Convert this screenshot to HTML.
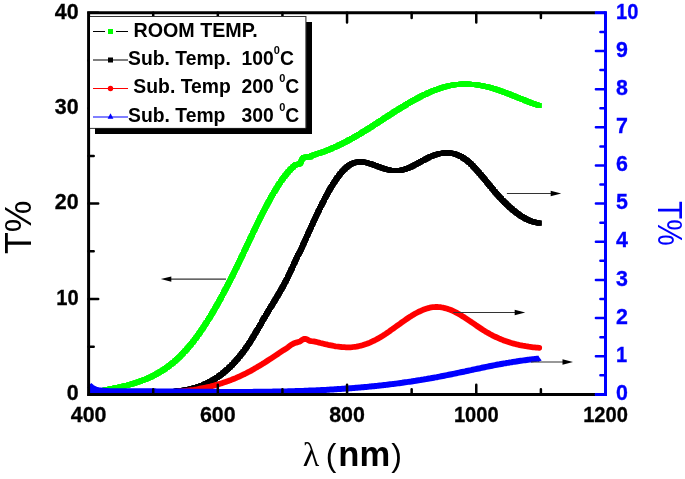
<!DOCTYPE html>
<html><head><meta charset="utf-8"><title>Transmittance</title>
<style>html,body{margin:0;padding:0;background:#fff}svg{display:block}</style></head>
<body>
<svg width="685" height="479" viewBox="0 0 685 479">
<rect width="685" height="479" fill="#fff"/>
<defs><marker id="mg" markerUnits="userSpaceOnUse" markerWidth="5.4" markerHeight="5.4" refX="2.7" refY="2.7"><rect width="5.4" height="5.4" fill="#00ff00"/></marker><marker id="mk" markerUnits="userSpaceOnUse" markerWidth="5.4" markerHeight="5.4" refX="2.7" refY="2.7"><rect width="5.4" height="5.4" fill="#000"/></marker></defs>
<g fill="none" stroke-linejoin="round">
<path d="M92.0,392.3L93.0,392.1L94.0,392.0L95.0,391.8L95.9,391.6L96.9,391.4L97.9,391.3L98.9,391.1L99.9,390.9L100.9,390.7L101.9,390.5L102.8,390.3L103.8,390.2L104.8,390.0L105.8,389.8L106.8,389.6L107.8,389.4L108.7,389.2L109.7,389.0L110.7,388.8L111.7,388.6L112.7,388.4L113.6,388.2L114.6,388.0L115.6,387.8L116.6,387.6L117.6,387.4L118.5,387.2L119.5,387.0L120.5,386.8L121.5,386.6L122.5,386.3L123.4,386.1L124.4,385.9L125.4,385.6L126.4,385.4L127.3,385.2L128.3,384.9L129.3,384.7L130.2,384.4L131.2,384.1L132.2,383.9L133.1,383.6L134.1,383.3L135.0,383.0L136.0,382.7L136.9,382.4L137.9,382.1L138.8,381.8L139.8,381.4L140.7,381.1L141.7,380.7L142.6,380.4L143.6,380.0L144.5,379.7L145.4,379.3L146.3,378.9L147.3,378.5L148.2,378.1L149.1,377.7L150.0,377.3L150.9,376.9L151.8,376.4L152.7,376.0L153.6,375.5L154.5,375.1L155.4,374.6L156.3,374.1L157.1,373.6L158.0,373.1L158.9,372.6L159.7,372.1L160.6,371.6L161.4,371.1L162.3,370.5L163.1,370.0L164.0,369.5L164.8,368.9L165.6,368.3L166.4,367.7L167.2,367.2L168.0,366.6L168.8,366.0L169.6,365.4L170.4,364.7L171.2,364.1L172.0,363.5L172.8,362.9L173.5,362.2L174.3,361.6L175.1,360.9L175.8,360.3L176.6,359.6L177.3,358.9L178.0,358.2L178.8,357.5L179.5,356.9L180.2,356.2L180.9,355.5L181.6,354.7L182.3,354.0L183.0,353.3L183.7,352.6L184.4,351.8L185.1,351.1L185.8,350.4L186.4,349.6L187.1,348.9L187.7,348.1L188.4,347.4L189.0,346.6L189.7,345.8L190.3,345.1L191.0,344.3L191.6,343.5L192.2,342.7L192.8,342.0L193.5,341.2L194.1,340.4L194.7,339.6L195.3,338.8L195.9,338.0L196.5,337.2L197.1,336.4L197.7,335.5L198.2,334.7L198.8,333.9L199.4,333.1L200.0,332.3L200.5,331.5L201.1,330.6L201.7,329.8L202.2,329.0L202.8,328.1L203.4,327.3L203.9,326.5L204.5,325.6L205.0,324.8L205.5,324.0L206.1,323.1L206.6,322.3L207.2,321.4L207.7,320.6L208.2,319.7L208.7,318.9L209.3,318.0L209.8,317.2L210.3,316.3L210.8,315.5L211.4,314.6L211.9,313.7L212.4,312.9L212.9,312.0L213.4,311.2L213.9,310.3L214.4,309.4L214.9,308.6L215.4,307.7L215.9,306.8L216.4,306.0L216.9,305.1L217.4,304.2L217.9,303.3L218.4,302.5L218.9,301.6L219.3,300.7L219.8,299.8L220.3,299.0L220.8,298.1L221.3,297.2L221.7,296.3L222.2,295.4L222.7,294.6L223.2,293.7L223.6,292.8L224.1,291.9L224.6,291.0L225.0,290.1L225.5,289.2L226.0,288.4L226.4,287.5L226.9,286.6L227.4,285.7L227.8,284.8L228.3,283.9L228.7,283.0L229.2,282.1L229.6,281.2L230.1,280.3L230.5,279.5L231.0,278.6L231.4,277.7L231.9,276.8L232.3,275.9L232.8,275.0L233.2,274.1L233.7,273.2L234.1,272.3L234.6,271.4L235.0,270.5L235.4,269.6L235.9,268.7L236.3,267.8L236.8,266.9L237.2,266.0L237.6,265.1L238.1,264.2L238.5,263.3L238.9,262.4L239.4,261.5L239.8,260.6L240.2,259.7L240.7,258.8L241.1,257.9L241.5,257.0L242.0,256.1L242.4,255.2L242.8,254.2L243.3,253.3L243.7,252.4L244.1,251.5L244.5,250.6L245.0,249.7L245.4,248.8L245.8,247.9L246.3,247.0L246.7,246.1L247.1,245.2L247.5,244.3L248.0,243.4L248.4,242.5L248.8,241.6L249.3,240.7L249.7,239.8L250.1,238.9L250.5,238.0L251.0,237.1L251.4,236.1L251.8,235.2L252.3,234.3L252.7,233.4L253.1,232.5L253.6,231.6L254.0,230.7L254.4,229.8L254.9,228.9L255.3,228.0L255.7,227.1L256.2,226.2L256.6,225.3L257.0,224.4L257.5,223.5L257.9,222.6L258.4,221.7L258.8,220.8L259.3,219.9L259.7,219.0L260.1,218.1L260.6,217.2L261.0,216.3L261.5,215.4L261.9,214.6L262.4,213.7L262.8,212.8L263.3,211.9L263.8,211.0L264.2,210.1L264.7,209.2L265.1,208.3L265.6,207.4L266.1,206.5L266.5,205.7L267.0,204.8L267.5,203.9L267.9,203.0L268.4,202.1L268.9,201.2L269.4,200.4L269.9,199.5L270.4,198.6L270.8,197.7L271.3,196.9L271.8,196.0L272.3,195.1L272.8,194.3L273.3,193.4L273.8,192.5L274.3,191.7L274.9,190.8L275.4,190.0L275.9,189.1L276.4,188.2L277.0,187.4L277.5,186.5L278.0,185.7L278.6,184.9L279.1,184.0L279.7,183.2L280.2,182.4L280.8,181.5L281.4,180.7L281.9,179.9L282.5,179.1L283.1,178.3L283.7,177.5L284.3,176.7L284.9,175.9L285.5,175.1L286.2,174.3L286.8,173.5L287.4,172.8L288.1,172.0L288.8,171.2L289.4,170.5L290.1,169.8L290.8,169.1L291.5,168.3L292.2,167.6L293.0,167.0L293.7,166.3L294.5,165.6L295.3,165.0L296.1,164.4L297.1,164.4L298.1,164.3L299.0,163.9L299.9,163.4L300.6,162.8L301.0,161.8L301.3,160.9L301.7,160.0L302.2,159.1L302.9,158.4L303.7,157.7L304.6,157.4L305.5,157.1L306.5,157.0L307.5,157.0L308.5,157.0L309.5,156.9L310.5,156.8L311.2,156.1L312.0,155.5L313.0,155.2L313.9,154.9L314.9,154.6L315.8,154.3L316.8,154.0L317.7,153.7L318.7,153.4L319.6,153.1L320.6,152.8L321.5,152.4L322.5,152.1L323.4,151.8L324.4,151.4L325.3,151.1L326.2,150.7L327.2,150.3L328.1,150.0L329.0,149.6L330.0,149.2L330.9,148.8L331.8,148.4L332.7,148.0L333.6,147.6L334.6,147.2L335.5,146.8L336.4,146.4L337.3,146.0L338.2,145.6L339.1,145.1L340.0,144.7L340.9,144.3L341.8,143.8L342.7,143.4L343.6,142.9L344.5,142.5L345.4,142.0L346.3,141.6L347.2,141.1L348.0,140.6L348.9,140.1L349.8,139.7L350.7,139.2L351.6,138.7L352.4,138.2L353.3,137.7L354.2,137.2L355.0,136.7L355.9,136.2L356.8,135.7L357.6,135.2L358.5,134.7L359.4,134.2L360.2,133.7L361.1,133.2L361.9,132.6L362.8,132.1L363.6,131.6L364.5,131.1L365.3,130.5L366.2,130.0L367.0,129.5L367.9,129.0L368.7,128.4L369.6,127.9L370.4,127.3L371.3,126.8L372.1,126.3L373.0,125.7L373.8,125.2L374.6,124.6L375.5,124.1L376.3,123.6L377.2,123.0L378.0,122.5L378.8,121.9L379.7,121.4L380.5,120.8L381.4,120.3L382.2,119.7L383.0,119.2L383.9,118.7L384.7,118.1L385.6,117.6L386.4,117.0L387.2,116.5L388.1,115.9L388.9,115.4L389.8,114.8L390.6,114.3L391.5,113.8L392.3,113.2L393.1,112.7L394.0,112.1L394.8,111.6L395.7,111.1L396.5,110.5L397.4,110.0L398.2,109.5L399.1,108.9L399.9,108.4L400.8,107.9L401.6,107.4L402.5,106.8L403.3,106.3L404.2,105.8L405.0,105.3L405.9,104.8L406.8,104.2L407.6,103.7L408.5,103.2L409.4,102.7L410.2,102.2L411.1,101.7L412.0,101.2L412.8,100.7L413.7,100.3L414.6,99.8L415.5,99.3L416.3,98.8L417.2,98.3L418.1,97.9L419.0,97.4L419.9,96.9L420.8,96.5L421.7,96.0L422.6,95.6L423.5,95.1L424.4,94.7L425.3,94.3L426.2,93.9L427.1,93.4L428.0,93.0L428.9,92.6L429.8,92.2L430.8,91.8L431.7,91.4L432.6,91.0L433.5,90.7L434.5,90.3L435.4,89.9L436.3,89.6L437.3,89.3L438.2,88.9L439.2,88.6L440.1,88.3L441.1,88.0L442.0,87.7L443.0,87.4L443.9,87.1L444.9,86.8L445.9,86.6L446.8,86.3L447.8,86.1L448.8,85.9L449.8,85.7L450.8,85.4L451.7,85.3L452.7,85.1L453.7,84.9L454.7,84.8L455.7,84.6L456.7,84.5L457.7,84.4L458.7,84.3L459.7,84.2L460.7,84.1L461.7,84.1L462.7,84.0L463.7,84.0L464.7,84.0L465.7,84.0L466.7,84.0L467.7,84.0L468.7,84.1L469.7,84.1L470.7,84.2L471.7,84.2L472.7,84.3L473.7,84.4L474.7,84.5L475.7,84.6L476.7,84.8L477.6,84.9L478.6,85.1L479.6,85.2L480.6,85.4L481.6,85.6L482.6,85.8L483.6,86.0L484.5,86.2L485.5,86.4L486.5,86.6L487.5,86.9L488.4,87.1L489.4,87.4L490.4,87.7L491.3,87.9L492.3,88.2L493.3,88.5L494.2,88.8L495.2,89.1L496.1,89.4L497.1,89.7L498.0,90.0L499.0,90.3L499.9,90.7L500.9,91.0L501.8,91.3L502.7,91.7L503.7,92.0L504.6,92.4L505.6,92.7L506.5,93.1L507.4,93.4L508.4,93.8L509.3,94.1L510.2,94.5L511.2,94.9L512.1,95.2L513.0,95.6L514.0,96.0L514.9,96.3L515.8,96.7L516.8,97.1L517.7,97.5L518.6,97.8L519.5,98.2L520.5,98.6L521.4,99.0L522.3,99.3L523.3,99.7L524.2,100.1L525.1,100.4L526.1,100.8L527.0,101.2L527.9,101.5L528.9,101.9L529.8,102.3L530.7,102.6L531.7,103.0L532.6,103.3L533.5,103.7L534.5,104.0L535.4,104.3L536.4,104.7L537.3,105.0L538.3,105.3L539.2,105.7" stroke="#00ff00" stroke-width="3" marker-start="url(#mg)" marker-mid="url(#mg)" marker-end="url(#mg)"/>
<path d="M92.0,392.3L93.0,392.3L94.0,392.3L95.0,392.3L96.0,392.3L97.0,392.3L98.0,392.3L99.0,392.3L100.0,392.3L101.0,392.3L102.0,392.3L103.0,392.3L104.0,392.2L105.0,392.2L106.0,392.2L107.0,392.2L108.0,392.2L109.0,392.2L110.0,392.2L111.0,392.2L112.0,392.2L113.0,392.2L114.0,392.2L115.0,392.2L116.0,392.2L117.0,392.2L118.0,392.2L119.0,392.2L120.0,392.2L121.0,392.2L122.0,392.2L123.0,392.2L124.0,392.2L125.0,392.2L126.0,392.2L127.0,392.1L128.0,392.1L129.0,392.1L130.0,392.1L131.1,392.1L132.1,392.1L133.1,392.1L134.1,392.1L135.1,392.1L136.1,392.1L137.1,392.1L138.1,392.1L139.1,392.1L140.1,392.1L141.1,392.1L142.1,392.1L143.1,392.1L144.1,392.1L145.1,392.1L146.1,392.1L147.1,392.1L148.1,392.1L149.1,392.1L150.1,392.0L151.1,392.0L152.1,392.0L153.1,392.0L154.1,392.0L155.1,392.0L156.1,392.0L157.1,391.9L158.1,391.9L159.1,391.9L160.1,391.9L161.1,391.9L162.1,391.8L163.1,391.8L164.1,391.8L165.1,391.8L166.1,391.7L167.1,391.7L168.1,391.6L169.1,391.6L170.1,391.5L171.1,391.5L172.1,391.4L173.1,391.4L174.1,391.3L175.1,391.2L176.1,391.1L177.1,391.0L178.1,390.9L179.1,390.8L180.1,390.7L181.1,390.6L182.1,390.4L183.0,390.3L184.0,390.1L185.0,390.0L186.0,389.8L187.0,389.6L188.0,389.4L189.0,389.2L189.9,389.0L190.9,388.8L191.9,388.5L192.9,388.3L193.8,388.0L194.8,387.8L195.7,387.5L196.7,387.2L197.7,386.9L198.6,386.6L199.6,386.2L200.5,385.9L201.4,385.5L202.4,385.2L203.3,384.8L204.2,384.4L205.1,384.0L206.0,383.6L207.0,383.2L207.9,382.7L208.8,382.3L209.6,381.8L210.5,381.4L211.4,380.9L212.3,380.4L213.1,379.9L214.0,379.4L214.9,378.9L215.7,378.3L216.5,377.8L217.4,377.2L218.2,376.6L219.0,376.1L219.8,375.5L220.6,374.9L221.4,374.3L222.2,373.7L223.0,373.1L223.8,372.4L224.6,371.8L225.3,371.1L226.1,370.5L226.8,369.8L227.6,369.2L228.3,368.5L229.0,367.8L229.8,367.1L230.5,366.4L231.2,365.7L231.9,365.0L232.6,364.3L233.3,363.5L234.0,362.8L234.7,362.1L235.3,361.3L236.0,360.6L236.7,359.8L237.3,359.1L238.0,358.3L238.6,357.6L239.2,356.8L239.9,356.0L240.5,355.2L241.1,354.4L241.7,353.7L242.4,352.9L243.0,352.1L243.6,351.3L244.2,350.5L244.8,349.6L245.3,348.8L245.9,348.0L246.5,347.2L247.1,346.4L247.6,345.6L248.2,344.7L248.7,343.9L249.3,343.1L249.8,342.2L250.4,341.4L250.9,340.5L251.5,339.7L252.0,338.8L252.5,338.0L253.0,337.1L253.6,336.3L254.1,335.4L254.6,334.6L255.1,333.7L255.6,332.8L256.1,332.0L256.6,331.1L257.1,330.3L257.6,329.4L258.2,328.5L258.7,327.7L259.2,326.8L259.7,325.9L260.2,325.0L260.7,324.2L261.2,323.3L261.6,322.4L262.1,321.6L262.6,320.7L263.1,319.8L263.6,319.0L264.1,318.1L264.6,317.2L265.2,316.4L265.7,315.5L266.2,314.6L266.7,313.8L267.2,312.9L267.7,312.1L268.2,311.2L268.7,310.3L269.2,309.5L269.8,308.6L270.3,307.8L270.8,306.9L271.3,306.1L271.9,305.2L272.4,304.4L272.9,303.5L273.4,302.7L274.0,301.8L274.5,301.0L275.0,300.1L275.5,299.2L276.0,298.4L276.6,297.5L277.1,296.7L277.6,295.8L278.1,295.0L278.6,294.1L279.1,293.2L279.6,292.4L280.1,291.5L280.6,290.6L281.1,289.8L281.6,288.9L282.1,288.0L282.6,287.1L283.1,286.3L283.5,285.4L284.0,284.5L284.5,283.6L284.9,282.7L285.4,281.8L285.9,280.9L286.3,280.0L286.8,279.2L287.2,278.3L287.7,277.4L288.1,276.5L288.5,275.6L289.0,274.7L289.4,273.8L289.8,272.9L290.3,271.9L290.7,271.0L291.1,270.1L291.5,269.2L292.0,268.3L292.4,267.4L292.8,266.5L293.2,265.6L293.6,264.7L294.0,263.8L294.5,262.8L294.9,261.9L295.3,261.0L295.7,260.1L296.1,259.2L296.5,258.3L296.9,257.4L297.3,256.4L297.7,255.5L298.3,254.7L298.8,253.9L299.3,253.0L299.8,252.1L300.2,251.2L300.6,250.3L301.1,249.4L301.5,248.5L301.9,247.6L302.3,246.7L302.7,245.7L303.1,244.8L303.5,243.9L303.9,243.0L304.3,242.1L304.7,241.2L305.1,240.3L305.6,239.3L306.0,238.4L306.4,237.5L306.8,236.6L307.2,235.7L307.6,234.8L308.0,233.9L308.4,233.0L308.8,232.0L309.3,231.1L309.7,230.2L310.1,229.3L310.5,228.4L310.9,227.5L311.3,226.6L311.7,225.7L312.2,224.7L312.6,223.8L313.0,222.9L313.4,222.0L313.8,221.1L314.2,220.2L314.7,219.3L315.1,218.4L315.5,217.5L315.9,216.6L316.4,215.7L316.8,214.8L317.2,213.9L317.7,212.9L318.1,212.0L318.5,211.1L319.0,210.2L319.4,209.3L319.8,208.4L320.3,207.5L320.7,206.6L321.2,205.7L321.6,204.8L322.1,204.0L322.5,203.1L323.0,202.2L323.4,201.3L323.9,200.4L324.3,199.5L324.8,198.6L325.3,197.7L325.7,196.8L326.2,196.0L326.7,195.1L327.2,194.2L327.6,193.3L328.1,192.4L328.6,191.6L329.1,190.7L329.6,189.8L330.1,189.0L330.6,188.1L331.1,187.2L331.6,186.4L332.2,185.5L332.7,184.7L333.2,183.8L333.8,183.0L334.3,182.1L334.9,181.3L335.4,180.5L336.0,179.6L336.5,178.8L337.1,178.0L337.7,177.2L338.3,176.4L338.9,175.6L339.5,174.8L340.1,174.0L340.8,173.2L341.4,172.5L342.1,171.7L342.8,171.0L343.4,170.2L344.1,169.5L344.9,168.8L345.6,168.1L346.3,167.5L347.1,166.8L347.9,166.2L348.7,165.6L349.5,165.1L350.4,164.5L351.2,164.0L352.1,163.6L353.1,163.2L354.0,162.8L354.9,162.5L355.9,162.3L356.9,162.1L357.9,162.0L358.9,161.9L359.9,161.8L360.9,161.8L361.9,161.9L362.9,162.0L363.9,162.1L364.9,162.3L365.8,162.5L366.8,162.7L367.8,163.0L368.8,163.2L369.7,163.5L370.7,163.8L371.6,164.1L372.6,164.5L373.5,164.8L374.4,165.2L375.4,165.5L376.3,165.9L377.3,166.2L378.2,166.6L379.1,166.9L380.1,167.3L381.0,167.6L382.0,167.9L382.9,168.2L383.9,168.5L384.8,168.8L385.8,169.1L386.8,169.3L387.7,169.6L388.7,169.8L389.7,170.0L390.7,170.2L391.7,170.3L392.7,170.4L393.7,170.5L394.7,170.6L395.7,170.6L396.7,170.6L397.7,170.6L398.7,170.5L399.7,170.4L400.7,170.3L401.6,170.1L402.6,169.9L403.6,169.6L404.5,169.4L405.5,169.1L406.4,168.7L407.4,168.4L408.3,168.0L409.2,167.6L410.2,167.2L411.1,166.8L412.0,166.4L412.9,165.9L413.8,165.5L414.7,165.0L415.5,164.6L416.4,164.1L417.3,163.6L418.2,163.1L419.1,162.6L419.9,162.2L420.8,161.7L421.7,161.2L422.6,160.7L423.4,160.2L424.3,159.8L425.2,159.3L426.1,158.8L427.0,158.4L427.9,157.9L428.8,157.5L429.7,157.0L430.6,156.6L431.5,156.2L432.4,155.9L433.4,155.5L434.3,155.1L435.3,154.8L436.2,154.5L437.2,154.2L438.1,154.0L439.1,153.7L440.1,153.5L441.1,153.3L442.1,153.2L443.1,153.0L444.0,152.9L445.0,152.9L446.0,152.8L447.0,152.8L448.0,152.9L449.0,152.9L450.0,153.0L451.0,153.1L452.0,153.3L453.0,153.5L454.0,153.7L454.9,154.0L455.9,154.3L456.8,154.6L457.8,155.0L458.7,155.4L459.6,155.8L460.5,156.3L461.4,156.7L462.2,157.3L463.1,157.8L463.9,158.3L464.8,158.9L465.6,159.5L466.4,160.1L467.2,160.7L467.9,161.3L468.7,162.0L469.4,162.7L470.2,163.3L470.9,164.0L471.6,164.7L472.3,165.4L473.0,166.1L473.7,166.9L474.4,167.6L475.1,168.3L475.8,169.0L476.5,169.8L477.1,170.5L477.8,171.3L478.5,172.0L479.1,172.8L479.8,173.5L480.4,174.3L481.1,175.1L481.7,175.8L482.4,176.6L483.0,177.4L483.6,178.1L484.3,178.9L484.9,179.7L485.5,180.5L486.2,181.2L486.8,182.0L487.4,182.8L488.1,183.6L488.7,184.3L489.3,185.1L490.0,185.9L490.6,186.7L491.3,187.4L491.9,188.2L492.5,189.0L493.2,189.7L493.8,190.5L494.5,191.3L495.1,192.0L495.8,192.8L496.4,193.5L497.1,194.3L497.8,195.0L498.4,195.8L499.1,196.5L499.8,197.3L500.5,198.0L501.2,198.7L501.8,199.5L502.5,200.2L503.2,200.9L503.9,201.6L504.6,202.3L505.4,203.0L506.1,203.7L506.8,204.4L507.5,205.1L508.2,205.8L509.0,206.5L509.7,207.2L510.5,207.8L511.2,208.5L512.0,209.1L512.7,209.8L513.5,210.4L514.3,211.0L515.1,211.7L515.9,212.3L516.7,212.9L517.5,213.5L518.3,214.1L519.1,214.6L519.9,215.2L520.8,215.8L521.6,216.3L522.5,216.8L523.3,217.3L524.2,217.8L525.1,218.3L525.9,218.8L526.8,219.2L527.7,219.7L528.7,220.1L529.6,220.5L530.5,220.9L531.4,221.2L532.4,221.5L533.3,221.9L534.3,222.1L535.3,222.4L536.2,222.6L537.2,222.8L538.2,223.0L539.2,223.1" stroke="#000" stroke-width="3" marker-start="url(#mk)" marker-mid="url(#mk)" marker-end="url(#mk)"/>
<path d="M93.0,392.3L170.0,392.2L171.5,392.1L173.0,392.0L174.5,391.9L176.0,391.8L177.5,391.7L179.0,391.5L180.5,391.4L181.9,391.3L183.4,391.1L184.9,391.0L186.4,390.8L187.9,390.6L189.4,390.4L190.9,390.2L192.4,390.0L193.9,389.8L195.4,389.5L196.9,389.3L198.4,389.0L199.9,388.7L201.4,388.4L202.9,388.1L204.4,387.8L205.8,387.5L207.3,387.2L208.8,386.8L210.3,386.5L211.8,386.1L213.3,385.7L214.8,385.3L216.3,384.9L217.8,384.5L219.3,384.0L220.8,383.5L222.3,383.1L223.8,382.6L225.3,382.1L226.8,381.5L228.3,381.0L229.7,380.4L231.2,379.9L232.7,379.3L234.2,378.7L235.7,378.1L237.2,377.4L238.7,376.8L240.2,376.1L241.7,375.4L243.2,374.7L244.7,374.0L246.2,373.2L247.7,372.4L249.2,371.7L250.7,370.9L252.2,370.0L253.6,369.2L255.1,368.3L256.6,367.5L258.1,366.6L259.6,365.7L261.1,364.8L262.6,363.8L264.1,362.9L265.6,362.0L267.1,361.0L268.6,360.0L270.1,359.1L271.6,358.1L273.1,357.1L274.6,356.1L276.1,355.1L277.5,354.2L279.0,353.2L280.5,352.2L282.0,351.2L283.5,350.2L285.0,349.3L286.5,348.3L288.0,347.3L290.9,345.0L293.5,343.6L296.3,342.6L299.1,341.8L300.6,341.1L302.2,339.8L304.0,339.0L305.8,338.9L307.6,339.7L309.4,340.8L311.5,341.1L313.7,341.3L316.0,341.8L317.5,342.2L319.0,342.6L320.5,343.0L322.0,343.3L323.5,343.7L325.0,344.1L326.5,344.4L328.0,344.8L329.5,345.1L331.0,345.4L332.5,345.7L334.0,346.0L335.5,346.3L337.0,346.5L338.5,346.7L340.0,346.9L341.5,347.0L343.0,347.2L344.5,347.2L346.0,347.3L347.5,347.3L349.0,347.3L350.5,347.3L352.0,347.2L353.4,347.0L354.9,346.8L356.4,346.6L357.9,346.3L359.4,346.0L360.9,345.7L362.4,345.3L363.9,344.8L365.4,344.3L366.9,343.8L368.4,343.2L369.9,342.6L371.4,341.9L372.9,341.2L374.4,340.5L375.9,339.7L377.4,338.9L378.9,338.1L380.4,337.2L381.9,336.3L383.4,335.3L384.9,334.4L386.4,333.4L387.9,332.3L389.4,331.3L390.9,330.2L392.4,329.2L393.9,328.1L395.4,327.0L396.9,325.9L398.4,324.8L399.9,323.8L401.4,322.7L402.9,321.6L404.4,320.6L405.9,319.5L407.4,318.5L408.9,317.5L410.4,316.6L411.9,315.6L413.4,314.7L414.9,313.8L416.4,313.0L417.9,312.2L419.4,311.5L420.9,310.8L422.4,310.1L423.9,309.5L425.4,309.0L426.9,308.5L428.3,308.1L429.8,307.7L431.3,307.4L432.8,307.2L434.3,307.1L435.8,307.0L437.3,307.0L438.8,307.1L440.3,307.2L441.8,307.5L443.3,307.7L444.8,308.1L446.3,308.5L447.8,308.9L449.3,309.4L450.8,310.0L452.3,310.7L453.8,311.4L455.3,312.1L456.8,312.9L458.3,313.7L459.8,314.6L461.3,315.5L462.8,316.4L464.3,317.3L465.8,318.3L467.3,319.3L468.8,320.3L470.3,321.3L471.8,322.4L473.3,323.4L474.8,324.4L476.3,325.5L477.8,326.5L479.3,327.5L480.8,328.5L482.3,329.5L483.8,330.4L485.3,331.4L486.8,332.3L488.3,333.1L489.8,334.0L491.3,334.8L492.8,335.6L494.3,336.3L495.8,337.0L497.3,337.7L498.8,338.4L500.3,339.0L501.8,339.6L503.2,340.2L504.7,340.8L506.2,341.3L507.7,341.8L509.2,342.3L510.7,342.8L512.2,343.2L513.7,343.6L515.2,344.0L516.7,344.4L518.2,344.7L519.7,345.1L521.2,345.4L522.7,345.7L524.2,345.9L525.7,346.2L527.2,346.4L528.7,346.7L530.2,346.9L531.7,347.1L533.2,347.3L534.7,347.4L536.2,347.6L537.7,347.7L539.2,347.8" stroke="#ff0000" stroke-width="5.8" stroke-linecap="round"/>
<path d="M89.3,385.3L92.0,387.6L96.0,389.6L100.0,390.6L110.0,391.3L111.5,391.3L113.0,391.3L114.5,391.3L116.0,391.2L117.5,391.2L119.0,391.2L120.5,391.2L122.0,391.2L123.5,391.2L125.0,391.2L126.5,391.2L128.0,391.2L129.5,391.2L131.0,391.2L132.5,391.2L134.0,391.2L135.5,391.2L137.0,391.2L138.5,391.3L140.0,391.3L141.5,391.3L143.0,391.3L144.5,391.3L146.0,391.3L147.5,391.3L149.0,391.3L150.5,391.3L152.0,391.3L153.5,391.3L155.0,391.3L156.5,391.4L158.0,391.4L159.5,391.4L161.0,391.4L162.5,391.4L163.9,391.4L165.4,391.4L166.9,391.4L168.4,391.5L169.9,391.5L171.4,391.5L172.9,391.5L174.4,391.5L175.9,391.5L177.4,391.5L178.9,391.5L180.4,391.6L181.9,391.6L183.4,391.6L184.9,391.6L186.4,391.6L187.9,391.6L189.4,391.6L190.9,391.7L192.4,391.7L193.9,391.7L195.4,391.7L196.9,391.7L198.4,391.7L199.9,391.7L201.4,391.7L202.9,391.8L204.4,391.8L205.9,391.8L207.4,391.8L208.9,391.8L210.4,391.8L211.9,391.8L213.4,391.8L214.9,391.8L216.4,391.8L217.9,391.9L219.4,391.9L220.9,391.9L222.4,391.9L223.9,391.9L225.4,391.9L226.9,391.9L228.4,391.9L229.9,391.9L231.4,391.9L232.9,391.9L234.4,391.9L235.9,391.9L237.4,391.9L238.9,391.9L240.4,391.9L241.9,391.9L243.4,391.9L244.9,391.9L246.4,391.9L247.9,391.9L249.4,391.9L250.9,391.9L252.4,391.9L253.9,391.8L255.4,391.8L256.9,391.8L258.4,391.8L259.9,391.8L261.4,391.8L262.9,391.8L264.4,391.8L265.9,391.7L267.4,391.7L268.9,391.7L270.4,391.7L271.8,391.7L273.3,391.6L274.8,391.6L276.3,391.6L277.8,391.5L279.3,391.5L280.8,391.5L282.3,391.5L283.8,391.4L285.3,391.4L286.8,391.4L288.3,391.3L289.8,391.3L291.3,391.2L292.8,391.2L294.3,391.2L295.8,391.1L297.3,391.1L298.8,391.0L300.3,391.0L301.8,390.9L303.3,390.9L304.8,390.8L306.3,390.7L307.8,390.7L309.3,390.6L310.8,390.6L312.3,390.5L313.8,390.4L315.3,390.4L316.8,390.3L318.3,390.2L319.8,390.2L321.3,390.1L322.8,390.0L324.3,389.9L325.8,389.9L327.3,389.8L328.8,389.7L330.3,389.6L331.8,389.5L333.3,389.4L334.8,389.3L336.3,389.2L337.8,389.1L339.3,389.1L340.8,388.9L342.3,388.8L343.8,388.7L345.3,388.6L346.8,388.5L348.3,388.4L349.8,388.3L351.3,388.2L352.8,388.1L354.3,387.9L355.8,387.8L357.3,387.7L358.8,387.6L360.3,387.4L361.8,387.3L363.3,387.2L364.8,387.0L366.3,386.9L367.8,386.8L369.3,386.6L370.8,386.5L372.3,386.3L373.8,386.2L375.3,386.0L376.8,385.9L378.2,385.7L379.7,385.5L381.2,385.4L382.7,385.2L384.2,385.0L385.7,384.9L387.2,384.7L388.7,384.5L390.2,384.3L391.7,384.1L393.2,383.9L394.7,383.8L396.2,383.6L397.7,383.4L399.2,383.2L400.7,383.0L402.2,382.8L403.7,382.5L405.2,382.3L406.7,382.1L408.2,381.9L409.7,381.7L411.2,381.5L412.7,381.2L414.2,381.0L415.7,380.8L417.2,380.5L418.7,380.3L420.2,380.1L421.7,379.8L423.2,379.6L424.7,379.3L426.2,379.1L427.7,378.8L429.2,378.5L430.7,378.3L432.2,378.0L433.7,377.7L435.2,377.4L436.7,377.2L438.2,376.9L439.7,376.6L441.2,376.3L442.7,376.0L444.2,375.7L445.7,375.4L447.2,375.1L448.7,374.8L450.2,374.5L451.7,374.2L453.2,373.9L454.7,373.6L456.2,373.3L457.7,372.9L459.2,372.6L460.7,372.3L462.2,372.0L463.7,371.7L465.2,371.4L466.7,371.0L468.2,370.7L469.7,370.4L471.2,370.1L472.7,369.7L474.2,369.4L475.7,369.1L477.2,368.8L478.7,368.5L480.2,368.2L481.7,367.8L483.2,367.5L484.7,367.2L486.1,366.9L487.6,366.6L489.1,366.3L490.6,366.0L492.1,365.7L493.6,365.4L495.1,365.1L496.6,364.8L498.1,364.5L499.6,364.3L501.1,364.0L502.6,363.7L504.1,363.4L505.6,363.2L507.1,362.9L508.6,362.7L510.1,362.4L511.6,362.2L513.1,361.9L514.6,361.7L516.1,361.5L517.6,361.2L519.1,361.0L520.6,360.8L522.1,360.6L523.6,360.4L525.1,360.2L526.6,360.0L528.1,359.8L529.6,359.6L531.1,359.5L532.6,359.3L534.1,359.1L535.6,359.0L537.1,358.8L538.6,358.7" stroke="#0000ff" stroke-width="6"/>
</g>
<path d="M538,355.6L541.7,360.4L538,361.9Z" fill="#0000ff"/>
<path d="M89,382.5 C91,385 94,387.5 100,388.5 L100,394 L89,394Z" fill="#0000ff"/>
<path d="M88.6,11.35V395.9M87.1,12.85H595.0M87.1,394.4H595.0" stroke="#000" stroke-width="3" fill="none"/>
<path d="M88.6,394.40h9.6M88.6,346.71h5.1M88.6,299.01h9.6M88.6,251.32h5.1M88.6,203.62h9.6M88.6,155.93h5.1M88.6,108.24h9.6M88.6,60.54h5.1M88.6,12.85h9.6M153.21,394.4v-5.1M153.21,12.85v5.1M217.82,394.4v-9.6M217.82,12.85v9.6M282.44,394.4v-5.1M282.44,12.85v5.1M347.05,394.4v-9.6M347.05,12.85v9.6M411.66,394.4v-5.1M411.66,12.85v5.1M476.27,394.4v-9.6M476.27,12.85v9.6M540.89,394.4v-5.1M540.89,12.85v5.1" stroke="#000" stroke-width="2.5" stroke-linecap="round" fill="none"/>
<path d="M605.5,11.35V395.9" stroke="#0000ff" stroke-width="3" fill="none"/>
<path d="M605.5,12.85h-10.5M605.5,394.4h-10.5" stroke="#0000ff" stroke-width="3" fill="none"/>
<path d="M605.5,394.40h-9.6M605.5,375.32h-5.1M605.5,356.25h-9.6M605.5,337.17h-5.1M605.5,318.09h-9.6M605.5,299.01h-5.1M605.5,279.94h-9.6M605.5,260.86h-5.1M605.5,241.78h-9.6M605.5,222.70h-5.1M605.5,203.62h-9.6M605.5,184.55h-5.1M605.5,165.47h-9.6M605.5,146.39h-5.1M605.5,127.31h-9.6M605.5,108.24h-5.1M605.5,89.16h-9.6M605.5,70.08h-5.1M605.5,51.01h-9.6M605.5,31.93h-5.1M605.5,12.85h-9.6" stroke="#0000ff" stroke-width="2.5" stroke-linecap="round" fill="none"/>
<path d="M226,279.1H170.3" stroke="#333" stroke-width="1.1" fill="none"/><path d="M160.8,279.1L171.3,276.40000000000003V281.8Z" fill="#000"/>
<path d="M506.9,193.45H551.7" stroke="#333" stroke-width="1.1" fill="none"/><path d="M561.2,193.45L550.7,190.75V196.14999999999998Z" fill="#000"/>
<path d="M453.3,312.5H515.7" stroke="#333" stroke-width="1.1" fill="none"/><path d="M525.2,312.5L514.7,309.8V315.2Z" fill="#000"/>
<path d="M531,362H563.5" stroke="#333" stroke-width="1.1" fill="none"/><path d="M573,362L562.5,359.3V364.7Z" fill="#000"/>
<g font-family="'Liberation Sans',Arial,Helvetica,sans-serif" font-weight="bold" font-size="21.4" fill="#000" stroke="#000" stroke-width="0.3" text-anchor="end">
<text transform="translate(78.6,400.0) scale(1,1.05)">0</text>
<text transform="translate(78.6,304.6) scale(0.94,1.05)">10</text>
<text transform="translate(78.6,209.2) scale(1,1.05)">20</text>
<text transform="translate(78.6,113.8) scale(1,1.05)">30</text>
<text transform="translate(78.6,18.5) scale(1,1.05)">40</text>
</g>
<g font-family="'Liberation Sans',Arial,Helvetica,sans-serif" font-weight="bold" font-size="21.4" fill="#000" stroke="#000" stroke-width="0.3" text-anchor="middle">
<text transform="translate(88.6,421.7) scale(1,1.07)">400</text>
<text transform="translate(217.8,421.7) scale(1,1.07)">600</text>
<text transform="translate(347.0,421.7) scale(1,1.07)">800</text>
<text transform="translate(476.3,421.7) scale(0.94,1.07)">1000</text>
<text transform="translate(605.5,421.7) scale(0.94,1.07)">1200</text>
</g>
<g font-family="'Liberation Sans',Arial,Helvetica,sans-serif" font-weight="bold" font-size="21.4" fill="#0000ff" stroke="#0000ff" stroke-width="0.3" text-anchor="start">
<text transform="translate(616,400.0) scale(1,1.05)">0</text>
<text transform="translate(616,361.8) scale(0.94,1.05)">1</text>
<text transform="translate(616,323.7) scale(1,1.05)">2</text>
<text transform="translate(616,285.5) scale(1,1.05)">3</text>
<text transform="translate(616,247.4) scale(1,1.05)">4</text>
<text transform="translate(616,209.2) scale(1,1.05)">5</text>
<text transform="translate(616,171.1) scale(1,1.05)">6</text>
<text transform="translate(616,132.9) scale(1,1.05)">7</text>
<text transform="translate(616,94.8) scale(1,1.05)">8</text>
<text transform="translate(616,56.6) scale(1,1.05)">9</text>
<text transform="translate(616,18.5) scale(0.94,1.05)">10</text>
</g>
<text font-family="'Liberation Sans',Arial,Helvetica,sans-serif" font-size="35.6" fill="#000" transform="translate(31,254) rotate(-90) scale(1,1.06)">T%</text>
<text font-family="'Liberation Sans',Arial,Helvetica,sans-serif" font-size="29.8" fill="#0000ff" transform="translate(657.8,201) rotate(90) scale(1,1.16)">T%</text>
<text y="465.8" font-size="32" fill="#000" font-family="'Liberation Sans',Arial,Helvetica,sans-serif"><tspan x="302.8" font-family="'Liberation Serif','DejaVu Serif',serif" font-size="34">λ</tspan><tspan> </tspan><tspan x="325.8">(</tspan><tspan x="338.3" font-weight="bold" font-size="34.6">nm</tspan><tspan x="391.2">)</tspan></text>
<path d="M95,128H306V22H312V134H95Z" fill="#000"/>
<rect x="90" y="16" width="215.6" height="112" fill="#fff"/>
<path d="M90,16.5H306.4M305.9,16V128" stroke="#333" stroke-width="1.1" fill="none"/>
<path d="M90,128.4H306" stroke="#222" stroke-width="0.9" fill="none"/>
<path d="M93,31.5H105M116,31.5H128" stroke="#000" stroke-width="1" fill="none"/>
<rect x="108" y="29" width="5" height="5" fill="#00ff00"/>
<path d="M93,60H128" stroke="#000" stroke-width="1.2" fill="none"/>
<rect x="108" y="57.5" width="5" height="5" fill="#000"/>
<path d="M93,88.5H128" stroke="#ff0000" stroke-width="1.2" fill="none"/>
<circle cx="110.5" cy="88.5" r="2.7" fill="#ff0000"/>
<path d="M93,117H128" stroke="#0000ff" stroke-width="1.2" fill="none"/>
<path d="M110.5,113.3L113.4,118.8H107.6Z" fill="#0000ff"/>
<g font-family="'Liberation Sans',Arial,Helvetica,sans-serif" font-weight="bold" font-size="19.35" fill="#000">
<text font-size="19.7" transform="translate(128,37) scale(1,1.07)">&#160;ROOM TEMP.</text>
<text transform="translate(128,64.7) scale(1,1.055)">Sub. Temp.&#160;&#160;100<tspan font-size="11" dy="-10.4">0</tspan><tspan dy="10.4">C</tspan></text>
<text transform="translate(128,93.1) scale(1,1.055)">&#160;Sub. Temp&#160;&#160;200&#160;<tspan font-size="11" dy="-10.4">0</tspan><tspan dy="10.4">C</tspan></text>
<text transform="translate(128,121.6) scale(1,1.055)">Sub. Temp&#160;&#160;&#160;300&#160;<tspan font-size="11" dy="-10.4">0</tspan><tspan dy="10.4">C</tspan></text>
</g>
</svg>
</body></html>
